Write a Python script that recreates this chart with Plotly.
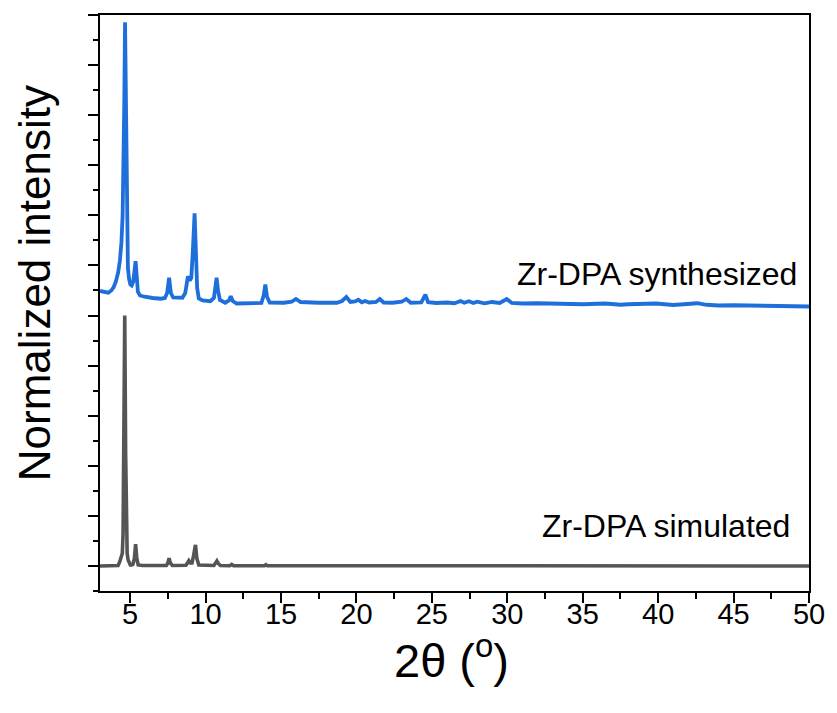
import plotly.graph_objects as go

# Powder XRD patterns of Zr-DPA (2-theta in degrees, normalized intensity)
synth_two_theta = [
    3.00, 3.15, 3.35, 3.55, 3.75, 3.90, 4.05, 4.20, 4.32, 4.42, 4.50, 4.56, 4.61, 4.66,
    4.71, 4.75, 4.79, 4.85, 4.93, 5.01, 5.10, 5.20, 5.28, 5.36, 5.43, 5.51, 5.65, 5.95,
    6.50, 7.04, 7.30, 7.45, 7.58, 7.70, 7.85, 8.20, 8.46, 8.65, 8.83, 8.95, 9.05, 9.15,
    9.27, 9.36, 9.44, 9.55, 9.80, 10.31, 10.55, 10.64, 10.73, 10.82, 10.95, 11.30, 11.55,
    11.67, 11.80, 12.06, 13.15, 13.70, 13.85, 13.96, 14.07, 14.25, 15.20, 15.70, 15.99,
    16.30, 17.50, 18.70, 19.05, 19.33, 19.60, 19.90, 20.13, 20.35, 20.57, 20.85, 21.30,
    21.55, 21.80, 22.40, 23.00, 23.30, 23.60, 24.30, 24.57, 24.75, 25.30, 26.00, 26.50,
    26.90, 27.15, 27.45, 27.75, 28.00, 28.50, 28.98, 29.50, 29.96, 30.30, 31.00, 32.00,
    33.00, 34.00, 35.00, 36.50, 37.50, 38.00, 39.87, 41.00, 42.60, 43.20, 44.00, 45.00,
    46.00, 47.00, 48.00, 49.00, 50.00,
]
synth_intensity = [
    0.098, 0.096, 0.092, 0.091, 0.100, 0.113, 0.135, 0.171, 0.220, 0.291, 0.400, 0.560, 0.850, 1.171,
    0.850, 0.500, 0.300, 0.190, 0.145, 0.124, 0.120, 0.135, 0.175, 0.217, 0.160, 0.095, 0.080, 0.075,
    0.070, 0.067, 0.070, 0.090, 0.151, 0.090, 0.072, 0.070, 0.071, 0.090, 0.157, 0.140, 0.150, 0.250,
    0.408, 0.250, 0.110, 0.068, 0.060, 0.057, 0.070, 0.110, 0.151, 0.100, 0.062, 0.051, 0.060,
    0.077, 0.058, 0.048, 0.048, 0.050, 0.080, 0.124, 0.075, 0.052, 0.051, 0.055, 0.066,
    0.054, 0.051, 0.051, 0.058, 0.074, 0.054, 0.056, 0.063, 0.053, 0.058, 0.052, 0.054,
    0.066, 0.052, 0.051, 0.055, 0.066, 0.051, 0.052, 0.083, 0.053, 0.050, 0.052, 0.049,
    0.058, 0.051, 0.057, 0.050, 0.055, 0.049, 0.054, 0.050, 0.066, 0.050, 0.048, 0.049,
    0.047, 0.046, 0.045, 0.048, 0.043, 0.045, 0.048, 0.042, 0.049, 0.043, 0.040, 0.041,
    0.039, 0.040, 0.038, 0.037, 0.036,
]
synth_offset = 1.0

sim_two_theta = [
    3.00, 4.20, 4.31, 4.42, 4.48, 4.53, 4.58, 4.64, 4.70, 4.75, 4.80, 4.86, 4.92, 5.01,
    5.10, 5.18, 5.28, 5.36, 5.44, 5.53, 5.80, 7.40, 7.50, 7.58, 7.66, 7.80, 8.70, 8.80,
    8.89, 8.98, 9.10, 9.20, 9.33, 9.42, 9.55, 10.55, 10.66, 10.75, 10.84, 10.98, 11.60,
    11.73, 11.86, 13.90, 14.00, 14.10, 50.00,
]
sim_intensity = [
    0.000, 0.002, 0.017, 0.037, 0.051, 0.131, 0.450, 1.000, 0.450, 0.131, 0.051, 0.025, 0.012, 0.004,
    0.004, 0.006, 0.030, 0.087, 0.030, 0.004, 0.002, 0.002, 0.012, 0.031, 0.012, 0.002, 0.003, 0.012,
    0.021, 0.012, 0.012, 0.040, 0.084, 0.030, 0.004, 0.002, 0.010, 0.020, 0.010, 0.002, 0.001,
    0.006, 0.001, 0.001, 0.005, 0.001, 0.000,
]

x_tick_values = [5, 10, 15, 20, 25, 30, 35, 40, 45, 50]
x_tick_labels = ["5", "10", "15", "20", "25", "30", "35", "40", "45", "50"]

BLUE = "#1f6fdb"
GREY = "#555555"
FONT = "Liberation Sans, Arial, sans-serif"

fig = go.Figure()
fig.add_trace(go.Scatter(
    x=sim_two_theta, y=sim_intensity, mode="lines",
    line=dict(color=GREY, width=3.6), name="Zr-DPA simulated",
))
fig.add_trace(go.Scatter(
    x=synth_two_theta, y=[v + synth_offset for v in synth_intensity], mode="lines",
    line=dict(color=BLUE, width=3.8), name="Zr-DPA synthesized",
))

fig.update_xaxes(
    range=[3, 50], showline=True, linecolor="black", linewidth=2, mirror=True,
    showgrid=False, zeroline=False,
    tickmode="array", tickvals=x_tick_values, ticktext=x_tick_labels,
    ticks="outside", ticklen=10, tickwidth=2, tickcolor="black",
    minor=dict(ticks="outside", ticklen=6, tickwidth=2, tickcolor="black",
               tick0=2.5, dtick=2.5, showgrid=False),
    tickfont=dict(family=FONT, size=29, color="black"),
    ticklabelstandoff=-14,
    ticklabeloverflow="allow",
)
fig.update_yaxes(
    range=[-0.1, 2.2], showline=True, linecolor="black", linewidth=2, mirror=True,
    showgrid=False, zeroline=False, showticklabels=False,
    tick0=0, dtick=0.2, ticks="outside", ticklen=10, tickwidth=2, tickcolor="black",
    minor=dict(ticks="outside", ticklen=5, tickwidth=2, tickcolor="black",
               dtick=0.1, showgrid=False),
)

fig.add_annotation(x=49.35, y=1.165, xref="x", yref="y", text="Zr-DPA synthesized",
                   showarrow=False, xanchor="right", yanchor="middle",
                   font=dict(family=FONT, size=32, color="black"))
fig.add_annotation(x=48.85, y=0.16, xref="x", yref="y", text="Zr-DPA simulated",
                   showarrow=False, xanchor="right", yanchor="middle",
                   font=dict(family=FONT, size=32, color="black"))

# Axis titles
fig.add_annotation(x=0.496, y=-0.115, xref="paper", yref="paper",
                   text="2θ (<sup>o</sup>)", showarrow=False,
                   xanchor="center", yanchor="middle",
                   font=dict(family=FONT, size=47, color="black"))
fig.add_annotation(x=-0.092, y=0.534, xref="paper", yref="paper",
                   text="Normalized intensity", showarrow=False, textangle=-90,
                   xanchor="center", yanchor="middle",
                   font=dict(family=FONT, size=44, color="black"))

fig.update_layout(
    width=837, height=713,
    margin=dict(l=100, r=20, t=15, b=122),
    plot_bgcolor="white", paper_bgcolor="white",
    showlegend=False,
)

fig.write_html("out.html")
